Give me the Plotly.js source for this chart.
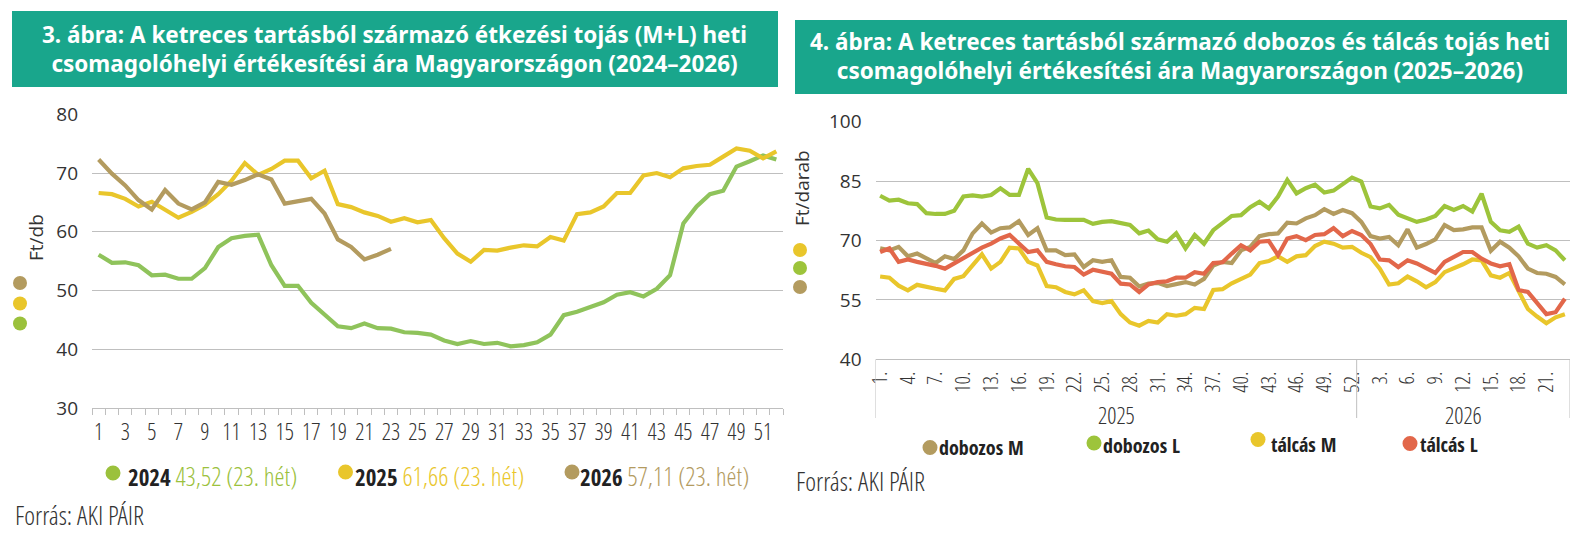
<!DOCTYPE html>
<html><head><meta charset="utf-8">
<script src="https://cdn.plot.ly/plotly-3.0.1.min.js"></script>
<style>html,body{margin:0;padding:0;background:#fff;} #chart{width:1584px;height:552px;}</style>
</head><body><div id="chart"></div>
<script>
// ---------- Chart 3 data (weekly price, Ft/db) ----------
const weeks = [1,2,3,4,5,6,7,8,9,10,11,12,13,14,15,16,17,18,19,20,21,22,23,24,25,26,27,28,29,30,31,32,33,34,35,36,37,38,39,40,41,42,43,44,45,46,47,48,49,50,51,52];
const y2024 = [56.1,54.7,54.8,54.3,52.6,52.7,52.0,52.0,53.8,57.4,58.9,59.3,59.5,54.3,50.8,50.8,47.9,45.9,43.9,43.6,44.4,43.6,43.5,42.9,42.8,42.5,41.5,40.9,41.4,40.9,41.1,40.5,40.7,41.2,42.5,45.8,46.4,47.2,48.0,49.3,49.7,49.0,50.3,52.6,61.4,64.3,66.4,67.0,71.1,72.0,73.0,72.3];
const y2025 = [66.6,66.4,65.6,64.3,65.1,63.7,62.4,63.4,64.6,66.4,68.7,71.7,69.7,70.7,72.1,72.1,69.1,70.4,64.7,64.2,63.3,62.7,61.7,62.3,61.6,62.0,58.9,56.3,54.9,56.9,56.8,57.3,57.7,57.5,59.1,58.5,63.0,63.3,64.3,66.6,66.6,69.6,70.0,69.3,70.8,71.2,71.4,72.8,74.2,73.8,72.5,73.7];
const y2026 = [72.3,69.9,67.9,65.4,63.8,67.1,64.8,63.8,65.0,68.5,68.0,68.8,69.8,68.9,64.8,65.2,65.6,63.1,58.7,57.4,55.3,56.1,57.1];
const yearNames = ['2024','2025','2026'];
const yearNotes = ['43,52 (23. hét)','61,66 (23. hét)','57,11 (23. hét)'];

// ---------- Chart 4 data (weekly price, Ft/darab) ----------
const groupYears = ['2025','2026'];
const weekLabels2025 = ['1.','2.','3.','4.','5.','6.','7.','8.','9.','10.','11.','12.','13.','14.','15.','16.','17.','18.','19.','20.','21.','22.','23.','24.','25.','26.','27.','28.','29.','30.','31.','32.','33.','34.','35.','36.','37.','38.','39.','40.','41.','42.','43.','44.','45.','46.','47.','48.','49.','50.','51.','52.'];
const weekLabels2026 = ['1.','2.','3.','4.','5.','6.','7.','8.','9.','10.','11.','12.','13.','14.','15.','16.','17.','18.','19.','20.','21.','22.','23.'];
const dobozosM = [68.0,67.5,68.4,66.0,66.7,65.4,64.3,66.0,65.3,67.5,71.8,74.3,72.0,73.1,73.3,74.9,71.4,73.1,67.5,
  67.5,66.3,66.5,63.3,65.0,64.6,65.0,60.8,60.6,58.4,59.1,59.3,58.5,59.1,59.5,58.9,60.3,63.7,64.6,
  64.3,67.5,68.4,71.1,71.6,71.8,74.5,74.3,75.6,76.4,77.9,76.7,77.7,76.9,74.7,71.1,70.5,70.9,68.8,
  72.8,68.2,69.1,70.3,73.9,72.6,72.8,73.3,73.3,67.4,69.7,68.2,66.0,62.9,61.8,61.6,60.8,58.9];
const dobozosL = [81.3,80.1,80.3,79.4,79.2,76.9,76.7,76.7,77.5,81.1,81.4,81.1,81.5,83.2,81.5,81.5,88.1,84.5,75.8,
  75.3,75.2,75.2,75.2,74.2,74.7,74.9,74.3,73.9,71.8,72.5,70.3,69.7,71.8,68.0,71.4,69.2,72.6,74.4,
  76.2,76.4,78.4,79.8,78.1,81.1,85.3,81.9,83.2,84.1,82.1,82.6,84.3,85.9,84.9,78.6,78.1,79.0,76.5,
  75.6,74.7,75.3,76.2,78.7,77.7,78.7,77.3,81.8,74.7,72.6,72.2,73.5,69.2,68.2,68.8,67.5,65.0];
const talcasM = [60.9,60.6,58.6,57.4,58.8,58.2,57.8,57.4,60.3,61.0,63.7,66.5,62.9,64.6,68.2,68.0,64.6,63.7,58.5,
  58.2,57.0,56.4,57.4,54.7,54.2,54.7,51.4,49.3,48.5,49.7,49.3,51.4,51.0,51.4,53.0,52.7,57.5,57.7,
  59.2,60.3,61.4,64.3,64.8,66.0,64.6,66.0,66.3,68.6,69.7,69.2,68.2,68.4,66.9,65.8,62.9,58.9,59.2,
  60.9,59.7,58.2,59.5,62.0,62.9,64.0,65.2,65.0,61.2,60.6,61.8,57.4,52.7,50.8,49.1,50.6,51.4];
const talcasL = [67.1,68.0,64.6,65.2,64.6,64.2,63.6,62.9,64.2,65.6,67.1,68.2,69.2,70.5,71.4,69.2,67.1,67.5,64.6,
  64.0,63.5,63.3,61.4,62.6,62.2,61.6,59.1,58.9,57.0,58.9,59.5,59.7,60.6,60.6,62.0,61.6,64.3,64.5,
  66.7,68.8,67.5,69.7,69.9,66.3,70.5,71.1,70.1,71.4,71.6,73.1,71.1,72.4,71.4,69.1,65.2,65.0,63.3,
  65.0,64.2,63.1,61.8,64.6,66.0,67.1,67.1,65.4,64.2,63.5,64.0,57.5,57.0,54.2,51.4,51.9,55.3];
const seriesNames2 = ['dobozos M','dobozos L','tálcás M','tálcás L'];

// ---------- styling ----------
const W = 1584, H = 552;
const px = x => x / W, py = y => 1 - y / H;
const COND = "'Open Sans Condensed', 'Liberation Sans Narrow', 'DejaVu Sans Condensed', 'Open Sans', sans-serif";
const CONDL = "'Open Sans Condensed Light', 'Liberation Sans Narrow', 'DejaVu Sans Condensed', 'Open Sans', sans-serif";
const SEMI = "'Noto Sans SemiCondensed', 'Noto Sans', 'Open Sans Condensed', sans-serif";
const REG = "'Open Sans', 'Liberation Sans', sans-serif";
const TEAL = '#19A68C', GRID = '#BFBFBF', TXT = '#333333';
const colYears = ['#8FC35B', '#E9C62B', '#B39B5F'];
const legYearDot = ['#9BC13C', '#E9C62B', '#B39B5F'];
const col2 = ['#B39B5F', '#9DC43B', '#E9C62B', '#E2674A'];
const LIGHT = {family: CONDL, weight: 300};

// chart 4 categories
const cats = weekLabels2025.map(w => groupYears[0] + ' ' + w).concat(weekLabels2026.map(w => groupYears[1] + ' ' + w));
const catText = weekLabels2025.concat(weekLabels2026);
const tickIdx = cats.map((c, i) => i).filter(i => i % 3 === 0);

const traces = [];
const yData = [y2024, y2025, y2026];
yData.forEach((ys, k) => traces.push({
  x: weeks.slice(0, ys.length), y: ys, type: 'scatter', mode: 'lines', name: yearNames[k],
  line: {color: colYears[k], width: 4.2, shape: 'linear'}, xaxis: 'x', yaxis: 'y', hoverinfo: 'skip'
}));
[dobozosM, dobozosL, talcasM, talcasL].forEach((ys, k) => traces.push({
  x: cats.slice(0, ys.length), y: ys, type: 'scatter', mode: 'lines', name: seriesNames2[k],
  line: {color: col2[k], width: 4.2}, xaxis: 'x2', yaxis: 'y2', hoverinfo: 'skip'
}));

const dot = (cx, cy, color, r) => ({type: 'circle', xref: 'paper', yref: 'paper', xsizemode: 'pixel', ysizemode: 'pixel',
  xanchor: px(cx), yanchor: py(cy), x0: -r, x1: r, y0: -r, y1: r, fillcolor: color, line: {width: 0}});

const shapes = [
  {type: 'rect', xref: 'paper', yref: 'paper', x0: px(12), x1: px(778), y0: py(87), y1: py(11), fillcolor: TEAL, line: {width: 0}, layer: 'below'},
  {type: 'rect', xref: 'paper', yref: 'paper', x0: px(795), x1: px(1567), y0: py(94), y1: py(20), fillcolor: TEAL, line: {width: 0}, layer: 'below'},
  dot(20, 283, colYears[2], 7), dot(20, 303.5, colYears[1], 7), dot(20, 323.5, legYearDot[0], 7),
  dot(800, 250, col2[2], 7), dot(800, 268, col2[1], 7), dot(800, 287, col2[0], 7),
  dot(113, 473, legYearDot[0], 7.5), dot(345.5, 472, legYearDot[1], 7.5), dot(572, 472, legYearDot[2], 7.5),
  dot(930, 447.5, col2[0], 7.5), dot(1094, 443, col2[1], 7.5), dot(1258, 439.5, col2[2], 7.5), dot(1410, 443.5, col2[3], 7.5)
];
[-0.5, weekLabels2025.length - 0.5, cats.length - 0.5].forEach(xv => shapes.push({
  type: 'line', xref: 'x2', yref: 'paper', x0: xv, x1: xv, y0: py(359.3), y1: py(418), line: {color: GRID, width: 1}
}));

const ann = [];
const title1 = '3. ábra: A ketreces tartásból származó étkezési tojás (M+L) heti<br>csomagolóhelyi értékesítési ára Magyarországon (2024–2026)';
const title2 = '4. ábra: A ketreces tartásból származó dobozos és tálcás tojás heti<br>csomagolóhelyi értékesítési ára Magyarországon (2025–2026)';
const tFont = {family: SEMI, size: 22.5, color: '#fff', weight: 700};
ann.push({text: title1, xref: 'paper', yref: 'paper', x: px(394), y: py(48.5), showarrow: false, xanchor: 'center', yanchor: 'middle', font: tFont});
ann.push({text: title2, xref: 'paper', yref: 'paper', x: px(1180), y: py(56.5), showarrow: false, xanchor: 'center', yanchor: 'middle', font: tFont});
ann.push({text: 'Ft/db', xref: 'paper', yref: 'paper', x: px(21.5), y: py(237.5), textangle: -90, showarrow: false,
  font: {family: REG, size: 19, color: TXT}});
ann.push({text: 'Ft/darab', xref: 'paper', yref: 'paper', x: px(801.5), y: py(187.5), textangle: -90, showarrow: false,
  font: {family: REG, size: 19, color: TXT}});
const legX1 = [126, 353, 578];
yearNames.forEach((n, k) => ann.push({
  text: '<span style="font-family:\'Open Sans Condensed\';font-weight:700;font-size:23px">' + n + '</span> <span style="color:' + legYearDot[k] + '">' + yearNotes[k] + '</span>',
  xref: 'paper', yref: 'paper', x: px(legX1[k]), y: py(475.5), xanchor: 'left', yanchor: 'middle', showarrow: false,
  font: Object.assign({size: 25.5, color: '#222'}, LIGHT)
}));
const legX2 = [937, 1101, 1269, 1418], legY2 = [447, 445, 444, 444];
seriesNames2.forEach((n, k) => ann.push({
  text: n, xref: 'paper', yref: 'paper', x: px(legX2[k]), y: py(legY2[k]), xanchor: 'left', yanchor: 'middle',
  showarrow: false, font: {family: COND, size: 20, color: '#222', weight: 700}
}));
ann.push({text: 'Forrás: AKI PÁIR', xref: 'paper', yref: 'paper', x: px(13), y: py(515), xanchor: 'left', yanchor: 'middle', showarrow: false,
  font: Object.assign({size: 26, color: TXT}, LIGHT)});
ann.push({text: 'Forrás: AKI PÁIR', xref: 'paper', yref: 'paper', x: px(794), y: py(481), xanchor: 'left', yanchor: 'middle', showarrow: false,
  font: Object.assign({size: 26, color: TXT}, LIGHT)});
const nA = weekLabels2025.length, nB = cats.length;
ann.push({text: groupYears[0], xref: 'x2', yref: 'paper', x: (nA - 1) / 2, y: py(415), showarrow: false, yanchor: 'middle',
  font: Object.assign({size: 23, color: TXT}, LIGHT)});
ann.push({text: groupYears[1], xref: 'x2', yref: 'paper', x: (nA + nB - 1) / 2, y: py(415), showarrow: false, yanchor: 'middle',
  font: Object.assign({size: 23, color: TXT}, LIGHT)});

const layout = {
  width: W, height: H, margin: {l: 0, r: 0, t: 0, b: 0}, paper_bgcolor: '#fff', plot_bgcolor: 'rgba(0,0,0,0)',
  showlegend: false,
  xaxis: {domain: [px(92), px(783)], range: [0.5, 52.5], tickmode: 'array', tickvals: weeks.filter(w => w % 2 === 1),
    ticks: '', showline: true, linecolor: GRID, linewidth: 1, showgrid: false, zeroline: false,
    minor: {ticks: 'outside', tick0: 0.5, dtick: 1, ticklen: 6, tickcolor: GRID, tickwidth: 1, showgrid: false},
    tickfont: Object.assign({size: 23, color: TXT}, LIGHT), ticklabelstandoff: 3, anchor: 'y', fixedrange: true},
  yaxis: {domain: [py(408), py(114.3)], range: [30, 80], dtick: 10, tick0: 30, showgrid: true, gridcolor: GRID, gridwidth: 1,
    showline: false, zeroline: false, ticks: '', tickfont: {family: REG, size: 19, color: TXT}, ticklabelstandoff: 13,
    anchor: 'x', fixedrange: true},
  xaxis2: {domain: [px(875.5), px(1569.5)], type: 'category', categoryorder: 'array', categoryarray: cats, range: [-0.5, cats.length - 0.5],
    tickmode: 'array', tickvals: tickIdx.map(i => cats[i]), ticktext: tickIdx.map(i => catText[i]), tickangle: -90,
    ticks: '', showline: true, linecolor: GRID, linewidth: 1, showgrid: false, zeroline: false,
    tickfont: Object.assign({size: 21, color: TXT}, LIGHT), ticklabelstandoff: 3, anchor: 'y2', fixedrange: true},
  yaxis2: {domain: [py(359.3), py(121.7)], range: [40, 100], dtick: 15, tick0: 40, showgrid: true, gridcolor: GRID, gridwidth: 1,
    showline: false, zeroline: false, ticks: '', tickfont: {family: REG, size: 19, color: TXT}, ticklabelstandoff: 13,
    anchor: 'x2', fixedrange: true},
  shapes: shapes, annotations: ann
};
Plotly.newPlot('chart', traces, layout, {staticPlot: true, displayModeBar: false}).then(() => {
  document.querySelectorAll('#chart .annotation-text').forEach(t => {
    if (/^[34]\. ábra/.test(t.textContent)) t.style.fontStretch = '87.5%';
  });
});
</script></body></html>
